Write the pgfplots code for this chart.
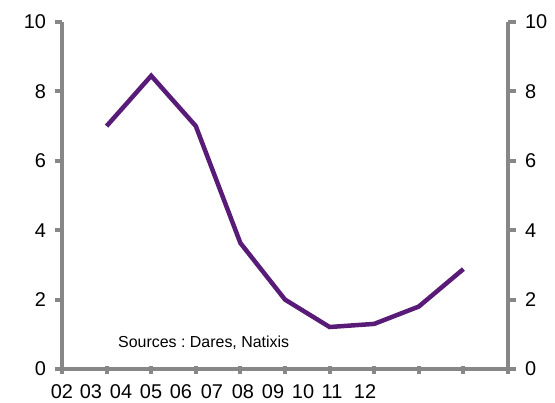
\documentclass[border=0pt]{standalone}
\usepackage{pgfplots}
\pgfplotsset{compat=1.18}
\usepackage{fontspec}
\setmainfont{Liberation Sans}
\definecolor{axisgray}{HTML}{878787}
\definecolor{linepurple}{HTML}{581C78}
\begin{document}
\begin{tikzpicture}
\pgfplotsset{
  frame/.style={
    scale only axis, width=446bp, height=347bp,
    xmin=0, xmax=10, ymin=0, ymax=10,
    ytick={0,2,...,10},
    axis line style={axisgray, line width=3.5bp},
    tick style={axisgray, line width=4bp},
    major tick length=7.5bp,
    tick align=outside,
    ticklabel style={font=\fontsize{20}{24}\selectfont, text=black},
    /pgf/number format/assume math mode=true,
  }
}
% left axis, bottom axis and the series
\begin{axis}[frame,
  axis x line*=bottom, axis y line*=left,
  xtick={0,...,10}, xticklabels={},
  x tick style={yshift=3bp},
  yticklabel style={xshift=-5bp},
  clip=false,
]
\addplot[linepurple, line width=4.5bp, mark=none] coordinates {
  (1,7.0) (2,8.45) (3,7.0) (4,3.63) (5,2.0) (6,1.21) (7,1.3) (8,1.8) (9,2.88)
};
\node[anchor=west, inner sep=0pt, font=\fontsize{16}{19}\selectfont\frenchspacing]
  at (axis cs:1.256,0.75) {Sources : Dares, Natixis};
\end{axis}
% right-hand axis, and the year labels along the bottom
\begin{axis}[frame,
  axis y line*=right, axis x line*=bottom,
  x axis line style={draw=none},
  xtick={0,0.65,1.323,1.996,2.668,3.363,4.058,4.731,5.404,6.054,6.794},
  xticklabels={02,03,04,05,06,07,08,09,10,11,12},
  x tick style={draw=none},
  xticklabel style={yshift=-5bp},
  yticklabel style={xshift=6bp},
]
\end{axis}
\path ([shift={(-62bp,-34bp)}]current axis.south west)
  rectangle ([shift={(47bp,22bp)}]current axis.north east);
\end{tikzpicture}
\end{document}
